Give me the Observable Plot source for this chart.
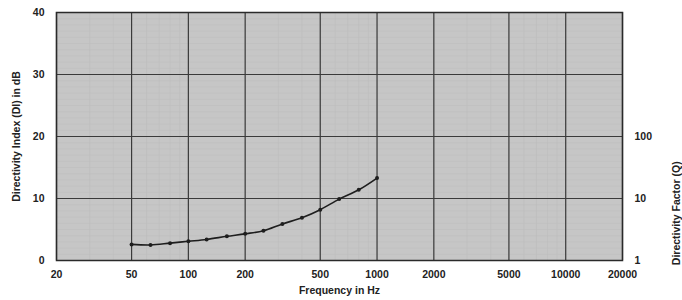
<!DOCTYPE html>
<html>
<head>
<meta charset="utf-8">
<script src="https://cdn.jsdelivr.net/npm/d3@7"></script>
<script src="https://cdn.jsdelivr.net/npm/@observablehq/plot@0.6"></script>
<style>
  html, body { margin: 0; padding: 0; background: #fff; }
  #chart { width: 682px; height: 300px; }
  svg { font-family: "Liberation Sans", Arial, sans-serif; }
</style>
</head>
<body>
<div id="chart"></div>
<script>
// Data
const frequencies = [50, 63, 80, 100, 125, 160, 200, 250, 315, 400, 500, 630, 800, 1000];
const directivityIndex = [2.6, 2.5, 2.8, 3.1, 3.4, 3.9, 4.3, 4.8, 5.9, 6.9, 8.2, 9.9, 11.4, 13.3];

const xTicks = [20, 50, 100, 200, 500, 1000, 2000, 5000, 10000, 20000];
const yTicks = [0, 10, 20, 30, 40];
const rightTicks = [0, 10, 20];
const rightTickLabels = ["1", "10", "100"];

const data = frequencies.map((f, i) => ({f, di: directivityIndex[i]}));

// minor (graph-paper) grid values
const minorX = [];
for (let d = 10; d <= 10000; d *= 10) for (let k = 1; k < 10; k++) { const v = d * k; if (v > 20 && v < 20000) minorX.push(v); }
const minorY = d3.range(1, 40);

const chart = Plot.plot({
  width: 682,
  height: 300,
  marginLeft: 56,
  marginRight: 60,
  marginTop: 12,
  marginBottom: 40,
  style: {background: "#fff", fontSize: "11px", color: "#222"},
  x: {type: "log", domain: [20, 20000], range: [56, 622], axis: null},
  y: {domain: [0, 40]},
  marks: [
    Plot.rect([0], {x1: 20, x2: 20000, y1: 0, y2: 40, fill: "#c6c6c6"}),
    Plot.ruleX(minorX, {stroke: "#bababa", strokeWidth: 0.5}),
    Plot.ruleY(minorY, {stroke: "#bcbcbc", strokeWidth: 0.5}),
    Plot.ruleX(xTicks, {stroke: "#3a3a3a", strokeWidth: 1.2}),
    Plot.ruleY(yTicks, {stroke: "#3a3a3a", strokeWidth: 1.2}),
    Plot.frame({stroke: "#2a2a2a", strokeWidth: 1.5}),
    Plot.text(xTicks, {x: d => d, frameAnchor: "bottom", dy: 17, text: d => String(d),
      fontWeight: "bold", fontSize: 10.5, fill: "#222"}),
    Plot.text(["Frequency in Hz"], {frameAnchor: "bottom", dy: 33,
      fontWeight: "bold", fontSize: 10.5, fill: "#222"}),
    Plot.axisY({ticks: yTicks, tickFormat: d => String(d), tickSize: 0, tickPadding: 12,
      label: "Directivity Index (DI) in dB", labelAnchor: "center", labelArrow: "none", labelOffset: 44,
      fontWeight: "bold", fontSize: 10.5, fill: "#222"}),
    Plot.axisY({anchor: "right", ticks: rightTicks, tickFormat: (d, i) => rightTickLabels[i],
      tickSize: 0, tickPadding: 12, label: null, fontWeight: "bold", fontSize: 10.5, fill: "#222"}),
    Plot.text(["Directivity Factor (Q)"], {frameAnchor: "right", dx: 54, y: 16, rotate: -90,
      fontWeight: "bold", fontSize: 10.5, fill: "#222"}),
    Plot.line(data, {x: "f", y: "di", stroke: "#1e1e1e", strokeWidth: 1.6, curve: "catmull-rom"}),
    Plot.dot(data, {x: "f", y: "di", r: 2, fill: "#1e1e1e"})
  ]
});
document.getElementById("chart").appendChild(chart);
</script>
</body>
</html>
